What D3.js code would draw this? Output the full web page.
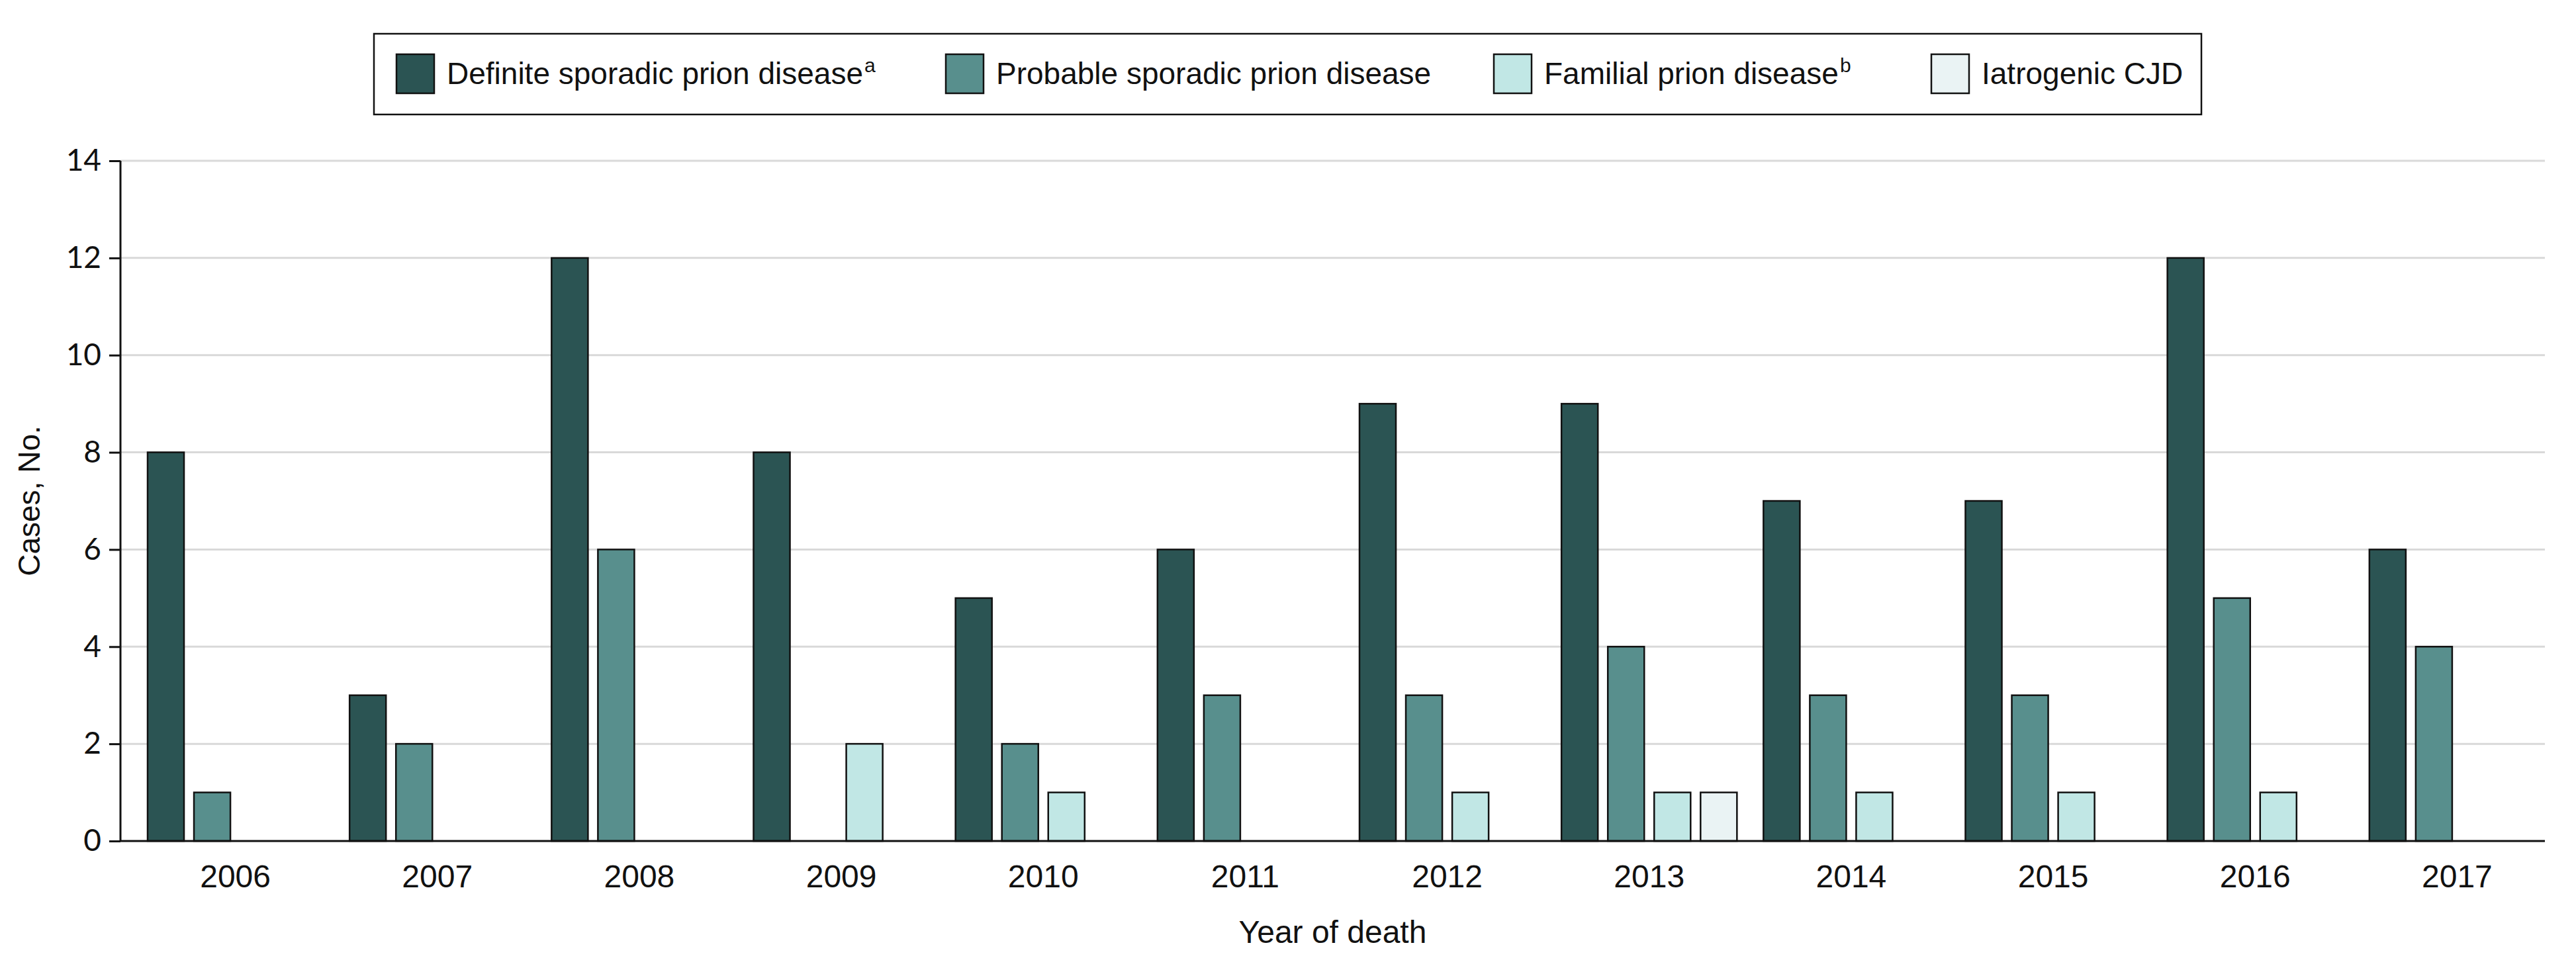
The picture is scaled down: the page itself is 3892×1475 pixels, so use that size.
<!DOCTYPE html>
<html>
<head>
<meta charset="utf-8">
<script src="https://cdn.jsdelivr.net/npm/d3@7"></script>
<style>
  html, body { margin: 0; padding: 0; background: #fff; }
  svg { display: block; }
  text { font-family: "Liberation Sans", Arial, sans-serif; fill: #111; }
</style>
</head>
<body>
<svg id="chart" width="3892" height="1475"></svg>
<script>
// ---- Data ----
const years = ["2006","2007","2008","2009","2010","2011","2012","2013","2014","2015","2016","2017"];
const seriesNames = ["Definite sporadic prion disease", "Probable sporadic prion disease", "Familial prion disease", "Iatrogenic CJD"];
const seriesSup = ["a", "", "b", ""];
const definiteSporadic = [8, 3, 12, 8, 5, 6, 9, 9, 7, 7, 12, 6];
const probableSporadic = [1, 2, 6, 0, 2, 3, 3, 4, 3, 3, 5, 4];
const familial        = [0, 0, 0, 2, 1, 0, 1, 1, 1, 1, 1, 0];
const iatrogenic      = [0, 0, 0, 0, 0, 0, 0, 1, 0, 0, 0, 0];
const yTicks = [0, 2, 4, 6, 8, 10, 12, 14];
const yLabel = "Cases, No.";
const xLabel = "Year of death";

const seriesValues = [definiteSporadic, probableSporadic, familial, iatrogenic];
const colors = ["#2b5453", "#588f8d", "#c1e7e5", "#eaf3f4"];

// ---- Layout ----
const svg = d3.select("#chart");
const axisLeft = 182, axisRight = 3845, plotTop = 243, plotBottom = 1271;

const y = d3.scaleLinear().domain([0, 14]).range([plotBottom, plotTop]);
const x0 = d3.scaleBand().domain(years).range([223, 3845]).paddingInner(40 / 305.2).paddingOuter(0);
const x1 = d3.scaleBand().domain(d3.range(4)).range([0, x0.bandwidth()]).paddingInner(15 / 70).paddingOuter(0);

// gridlines
svg.append("g").selectAll("line").data(yTicks.filter(d => d > 0)).join("line")
  .attr("x1", axisLeft).attr("x2", axisRight)
  .attr("y1", d => y(d)).attr("y2", d => y(d))
  .attr("stroke", "#d9d9d9").attr("stroke-width", 3);

// bars
const rows = [];
years.forEach((yr, i) => seriesValues.forEach((arr, s) => { if (arr[i] > 0) rows.push({ yr, s, v: arr[i] }); }));
svg.append("g").selectAll("rect").data(rows).join("rect")
  .attr("x", d => x0(d.yr) + x1(d.s))
  .attr("y", d => y(d.v))
  .attr("width", x1.bandwidth())
  .attr("height", d => y(0) - y(d.v))
  .attr("fill", d => colors[d.s])
  .attr("stroke", "#111").attr("stroke-width", 2.5);

// y axis
const yAxis = svg.append("g").attr("transform", `translate(${axisLeft},0)`)
  .call(d3.axisLeft(y).tickValues(yTicks).tickSize(17).tickPadding(12).tickFormat(d3.format("d")));
yAxis.select(".domain").attr("stroke", "#111").attr("stroke-width", 3).attr("d", `M0,${plotTop}V${plotBottom}`);
yAxis.selectAll(".tick line").attr("stroke", "#111").attr("stroke-width", 3);
yAxis.selectAll(".tick text").style("font-family", "Lato, 'Liberation Sans', sans-serif").attr("font-size", 46).attr("fill", "#111");

// x axis
const xAxis = svg.append("g").attr("transform", `translate(0,${plotBottom})`)
  .call(d3.axisBottom(x0).tickSize(0).tickPadding(36));
xAxis.select(".domain").attr("stroke", "#111").attr("stroke-width", 3).attr("d", `M${axisLeft},0H${axisRight}`);
xAxis.selectAll(".tick text").attr("font-size", 48).attr("fill", "#111").attr("dy", "0.71em").attr("y", 36);

// axis titles
svg.append("text").attr("transform", `translate(60,${(plotTop + plotBottom) / 2}) rotate(-90)`)
  .attr("text-anchor", "middle").attr("font-size", 46).text(yLabel);
svg.append("text").attr("x", (axisLeft + axisRight) / 2).attr("y", 1425)
  .attr("text-anchor", "middle").attr("font-size", 48).text(xLabel);

// legend
svg.append("rect").attr("x", 565).attr("y", 51).attr("width", 2761).attr("height", 122)
  .attr("fill", "#fff").attr("stroke", "#111").attr("stroke-width", 2.5);
const legendX = [599, 1429, 2257, 2918];
const lg = svg.append("g").selectAll("g").data(seriesNames).join("g")
  .attr("transform", (d, i) => `translate(${legendX[i]},0)`);
lg.append("rect").attr("x", 0).attr("y", 82).attr("width", 57).attr("height", 59)
  .attr("fill", (d, i) => colors[i]).attr("stroke", "#111").attr("stroke-width", 2.5);
const lt = lg.append("text").attr("x", 76).attr("y", 127).attr("font-size", 46);
lt.append("tspan").text(d => d);
lt.append("tspan").attr("font-size", 30).attr("dy", -18).attr("dx", 2).text((d, i) => seriesSup[i]);
</script>
</body>
</html>
